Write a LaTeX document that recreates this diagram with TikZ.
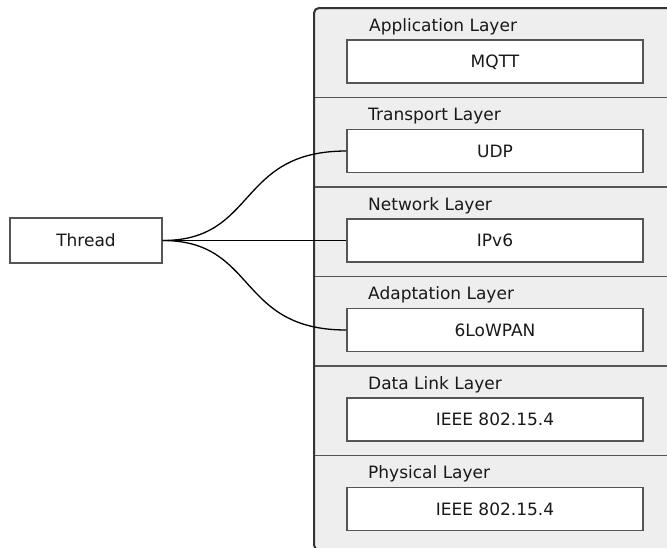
\documentclass[tikz,border=0pt]{standalone}
\usepackage{fontspec}
\setmainfont{DejaVu Sans}
\definecolor{stackfill}{HTML}{EEEEEE}
\definecolor{stackline}{HTML}{333333}
\definecolor{boxline}{HTML}{555555}
\begin{document}
\begin{tikzpicture}[x=1pt,y=-1pt,
  every node/.style={font=\fontsize{17}{20}\selectfont, text=black!90},
  stackframe/.style={draw=stackline, line width=2pt, fill=stackfill, rounded corners=5pt},
  divider/.style={draw=boxline, line width=1.4pt},
  protobox/.style={draw=boxline, line width=1.4pt, fill=white, minimum width=296pt,
    minimum height=43pt, inner sep=0pt, text height=12.4pt, text depth=0pt},
  layertitle/.style={anchor=base west, inner sep=0pt},
  threadbox/.style={draw=boxline, line width=1.2pt, fill=white, minimum width=152pt,
    minimum height=45pt, inner sep=0pt, text height=12.4pt, text depth=0pt},
  link/.style={draw=black, line width=1.3pt}]
\useasboundingbox (0,0) rectangle (667,547);

% protocol stack frame, running past the right and bottom edges
\begin{scope}
  \clip (0,0) rectangle (667,547);
  \path[stackframe] (314,8) rectangle (700,550);
  \foreach \y in {97.5,187,276.5,366,455.5}
    \draw[divider] (315,\y) -- (700,\y);
\end{scope}

% layer titles
\node[layertitle] (tapp)  at (369,31)    {Application Layer};
\node[layertitle] (ttra)  at (368,120.5) {Transport Layer};
\node[layertitle] (tnet)  at (368,210)   {Network Layer};
\node[layertitle] (tada)  at (368,299.5) {Adaptation Layer};
\node[layertitle] (tdll)  at (368,389)   {Data Link Layer};
\node[layertitle] (tphy)  at (368,478.5) {Physical Layer};

% protocols of each layer
\node[protobox] (mqtt)   at (495,61.5)  {MQTT};
\node[protobox] (udp)    at (495,151)   {UDP};
\node[protobox] (ipv6)   at (495,240.5) {IPv6};
\node[protobox] (lowpan) at (495,330)   {6LoWPAN};
\node[protobox] (mac)    at (495,419.5) {IEEE 802.15.4};
\node[protobox] (phy)    at (495,509)   {IEEE 802.15.4};

% Thread and the protocols it covers
\node[threadbox] (thread) at (86,240.5) {Thread};
\draw[link] (thread.east) .. controls +(95,0) and +(-110,0) .. (udp.west);
\draw[link] (thread.east) -- (ipv6.west);
\draw[link] (thread.east) .. controls +(95,0) and +(-110,0) .. (lowpan.west);
\end{tikzpicture}
\end{document}
